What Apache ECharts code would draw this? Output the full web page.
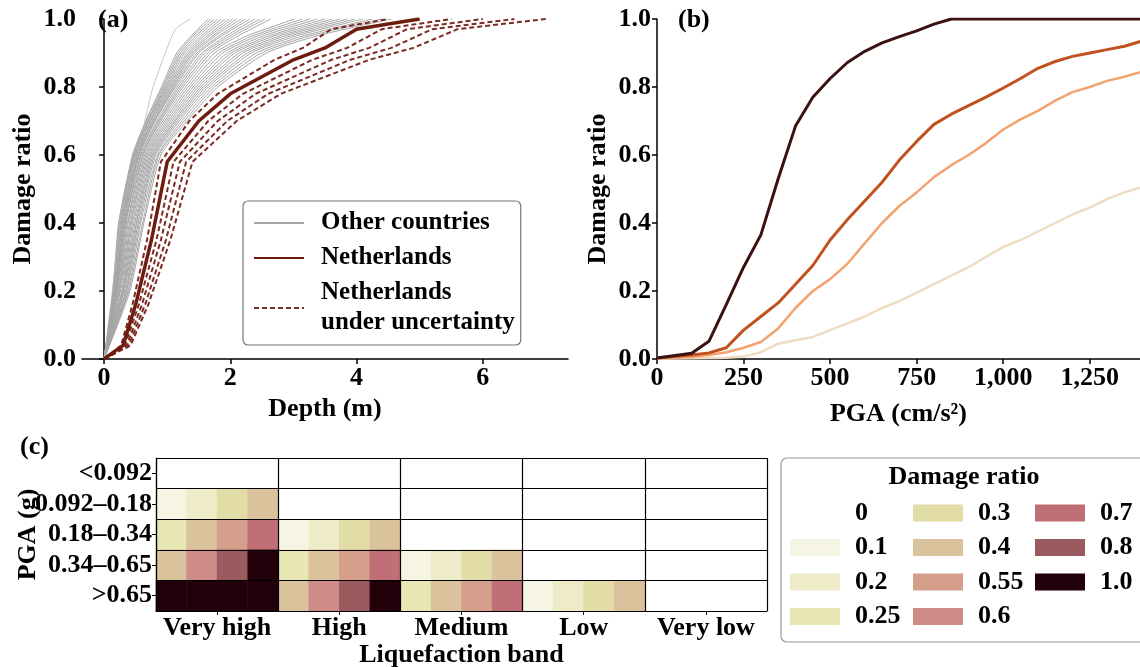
<!DOCTYPE html>
<html lang="en">
<head>
<meta charset="UTF-8">
<title>Damage curves</title>
<script src="https://cdn.jsdelivr.net/npm/echarts@6/dist/echarts.min.js"></script>
</head>
<body style="margin:0">
<div id="main" style="width:1140px;height:667px"></div>
<script>
// ---- (a) depth-damage curves ----
var damageLevels = [0, 0.2, 0.4, 0.6, 0.7, 0.8, 0.9, 0.95, 1.0];
// depth (m) at which each damage level is reached, one row per country
var otherCountryDepths = [
  [0, 0.14, 0.23, 0.45, 0.66, 0.91, 1.15, 1.38, 1.65],
  [0, 0.14, 0.24, 0.46, 0.67, 0.93, 1.18, 1.41, 1.70],
  [0, 0.15, 0.25, 0.47, 0.69, 0.95, 1.21, 1.45, 1.75],
  [0, 0.16, 0.25, 0.48, 0.70, 0.97, 1.24, 1.49, 1.80],
  [0, 0.16, 0.26, 0.49, 0.71, 0.99, 1.27, 1.54, 1.86],
  [0, 0.17, 0.27, 0.50, 0.73, 1.01, 1.31, 1.58, 1.92],
  [0, 0.17, 0.28, 0.51, 0.74, 1.03, 1.34, 1.63, 1.98],
  [0, 0.18, 0.29, 0.52, 0.76, 1.05, 1.37, 1.67, 2.04],
  [0, 0.19, 0.30, 0.53, 0.77, 1.07, 1.40, 1.72, 2.10],
  [0, 0.19, 0.31, 0.54, 0.79, 1.09, 1.43, 1.76, 2.17],
  [0, 0.20, 0.32, 0.55, 0.80, 1.11, 1.47, 1.82, 2.24],
  [0, 0.20, 0.33, 0.56, 0.81, 1.13, 1.50, 1.86, 2.31],
  [0, 0.21, 0.34, 0.58, 0.84, 1.16, 1.55, 1.93, 2.39],
  [0, 0.22, 0.35, 0.59, 0.86, 1.19, 1.59, 1.99, 2.47],
  [0, 0.23, 0.37, 0.61, 0.88, 1.22, 1.64, 2.05, 2.55],
  [0, 0.24, 0.38, 0.62, 0.90, 1.25, 1.69, 2.12, 2.64],
  [0, 0.25, 0.40, 0.64, 0.93, 1.29, 1.75, 2.26, 3.02],
  [0, 0.26, 0.42, 0.66, 0.96, 1.33, 1.82, 2.35, 3.14],
  [0, 0.28, 0.43, 0.68, 0.99, 1.37, 1.88, 2.43, 3.26],
  [0, 0.29, 0.45, 0.70, 1.02, 1.41, 1.95, 2.52, 3.38],
  [0, 0.30, 0.47, 0.72, 1.05, 1.45, 2.01, 2.61, 3.50],
  [0, 0.31, 0.49, 0.74, 1.08, 1.49, 2.07, 2.69, 3.62],
  [0, 0.32, 0.51, 0.76, 1.11, 1.53, 2.14, 2.78, 3.74],
  [0, 0.34, 0.52, 0.78, 1.13, 1.57, 2.20, 2.86, 3.86],
  [0, 0.35, 0.54, 0.80, 1.16, 1.61, 2.27, 2.95, 3.98],
  [0, 0.36, 0.56, 0.82, 1.19, 1.65, 2.33, 3.04, 4.10],
  [0, 0.38, 0.58, 0.85, 1.23, 1.70, 2.41, 3.15, 4.25],
  [0, 0.39, 0.61, 0.87, 1.27, 1.75, 2.49, 3.25, 4.40],
  [0, 0.41, 0.63, 0.90, 1.31, 1.80, 2.57, 3.36, 4.55]
];
// the steepest country curve
var steepDepth = [0, 0.13, 0.25, 0.33, 0.55, 0.76, 0.97, 1.13, 1.37];
var steepDamage = [0, 0.2, 0.4, 0.48, 0.62, 0.79, 0.90, 0.97, 1.0];

var nlDepth = [0, 0.15, 0.3, 0.5, 0.75, 1.0, 1.5, 2, 2.5, 3, 3.5, 4, 4.5, 5];
var nlDamage = [0, 0.02, 0.04, 0.16, 0.35, 0.58, 0.70, 0.78, 0.83, 0.88, 0.915, 0.97, 0.985, 1.0];
var nlUncertainDepths = [
  [0, 0.14, 0.27, 0.45, 0.68, 0.9, 1.35, 1.8, 2.25, 2.7, 3.15, 3.6, 4.05, 4.5],
  [0, 0.17, 0.33, 0.55, 0.83, 1.1, 1.65, 2.2, 2.75, 3.3, 3.85, 4.4, 4.95, 5.5],
  [0, 0.18, 0.36, 0.6, 0.9, 1.2, 1.8, 2.4, 3.0, 3.6, 4.2, 4.8, 5.4, 6.0],
  [0, 0.2, 0.39, 0.65, 0.98, 1.3, 1.95, 2.6, 3.25, 3.9, 4.55, 5.2, 5.85, 6.5],
  [0, 0.21, 0.42, 0.7, 1.05, 1.4, 2.1, 2.8, 3.5, 4.2, 4.9, 5.6, 6.3, 7.0]
];

// ---- (b) fragility curves vs PGA ----
var pgaSteps = [0, 100, 150, 200, 250, 300, 350, 400, 450, 500, 550, 600, 650, 700, 750,
  800, 850, 900, 950, 1000, 1050, 1100, 1150, 1200, 1250, 1300, 1350, 1400];
var pgaVeryHigh = [0.003, 0.017, 0.052, 0.16, 0.27, 0.365, 0.53, 0.685, 0.77, 0.825, 0.872, 0.905, 0.93, 0.948, 0.965,
  0.985, 1.0, 1.0, 1.0, 1.0, 1.0, 1.0, 1.0, 1.0, 1.0, 1.0, 1.0, 1.0];
var pgaHigh = [0.003, 0.012, 0.018, 0.033, 0.085, 0.125, 0.165, 0.22, 0.275, 0.35, 0.41, 0.465, 0.52, 0.585, 0.64,
  0.69, 0.72, 0.745, 0.77, 0.797, 0.825, 0.855, 0.875, 0.89, 0.9, 0.91, 0.92, 0.935];
var pgaMedium = [0.002, 0.006, 0.012, 0.02, 0.033, 0.05, 0.09, 0.15, 0.2, 0.235, 0.28, 0.34, 0.4, 0.45, 0.49,
  0.535, 0.57, 0.6, 0.635, 0.675, 0.705, 0.73, 0.76, 0.785, 0.8, 0.818, 0.83, 0.845];
var pgaLow = [0.001, 0.002, 0.003, 0.004, 0.007, 0.02, 0.045, 0.055, 0.065, 0.085, 0.105, 0.125, 0.15, 0.17, 0.195,
  0.22, 0.245, 0.27, 0.3, 0.33, 0.35, 0.375, 0.4, 0.425, 0.445, 0.47, 0.49, 0.505];
var pgaTicks = [0, 250, 500, 750, 1000, 1250];
var depthTicks = [0, 2, 4, 6];

// ---- (c) damage matrix ----
var bands = ['Very high', 'High', 'Medium', 'Low', 'Very low'];
var pgaBins = ['<0.092', '0.092\u20130.18', '0.18\u20130.34', '0.34\u20130.65', '>0.65'];
// 4 sub-cells per liquefaction band, rows top to bottom
var damageGrid = [
  [0, 0, 0, 0, 0, 0, 0, 0, 0, 0, 0, 0, 0, 0, 0, 0, 0, 0, 0, 0],
  [0.1, 0.2, 0.3, 0.4, 0, 0, 0, 0, 0, 0, 0, 0, 0, 0, 0, 0, 0, 0, 0, 0],
  [0.25, 0.4, 0.55, 0.7, 0.1, 0.2, 0.3, 0.4, 0, 0, 0, 0, 0, 0, 0, 0, 0, 0, 0, 0],
  [0.4, 0.6, 0.8, 1.0, 0.25, 0.4, 0.55, 0.7, 0.1, 0.2, 0.3, 0.4, 0, 0, 0, 0, 0, 0, 0, 0],
  [1.0, 1.0, 1.0, 1.0, 0.4, 0.6, 0.8, 1.0, 0.25, 0.4, 0.55, 0.7, 0.1, 0.2, 0.3, 0.4, 0, 0, 0, 0]
];
var damageClasses = [0, 0.1, 0.2, 0.25, 0.3, 0.4, 0.55, 0.6, 0.7, 0.8, 1.0];
var classLabels = ['0', '0.1', '0.2', '0.25', '0.3', '0.4', '0.55', '0.6', '0.7', '0.8', '1.0'];

// colours
var classColors = ['#ffffff', '#f6f4e2', '#eeebc8', '#e8e6b2', '#e2dca6', '#d9c29c',
  '#d49e8a', '#cf8b88', '#bf6f75', '#9a5b5e', '#22000a'];
var pgaColors = ['#3b1111', '#c0521d', '#f2a36f', '#efdcc4'];

var FONT = '"Liberation Serif", "DejaVu Serif", serif';
var txt = { fontFamily: FONT, fontWeight: 'bold', fontSize: 26, color: '#000' };

function pairs(xs, ys) {
  return xs.map(function (x, i) { return [x, ys[i]]; });
}

var chart = echarts.init(document.getElementById('main'));
var series = [];

// (a)
otherCountryDepths.forEach(function (d) {
  series.push({
    name: 'Other countries', type: 'line', xAxisIndex: 0, yAxisIndex: 0,
    data: pairs(d, damageLevels), symbol: 'none', smooth: 0.2,
    lineStyle: { color: '#a5a5a5', width: 1 }, itemStyle: { color: '#a5a5a5' }
  });
});
series.push({
  name: 'Other countries', type: 'line', xAxisIndex: 0, yAxisIndex: 0,
  data: pairs(steepDepth, steepDamage), symbol: 'none', smooth: 0.2,
  lineStyle: { color: '#b8b8b8', width: 0.8 }, itemStyle: { color: '#b8b8b8' }
});
nlUncertainDepths.forEach(function (d) {
  series.push({
    name: 'Netherlands\nunder uncertainty', type: 'line', xAxisIndex: 0, yAxisIndex: 0,
    data: pairs(d, nlDamage), symbol: 'none', z: 3,
    lineStyle: { color: '#7b2b22', width: 2, type: [5, 3] }, itemStyle: { color: '#7b2b22' }
  });
});
series.push({
  name: 'Netherlands', type: 'line', xAxisIndex: 0, yAxisIndex: 0,
  data: pairs(nlDepth, nlDamage), symbol: 'none', z: 4,
  lineStyle: { color: '#6e1c0e', width: 3.5 }, itemStyle: { color: '#6e1c0e' }
});

// (b)
[pgaLow, pgaMedium, pgaHigh, pgaVeryHigh].forEach(function (ys, i) {
  var c = pgaColors[3 - i];
  series.push({
    name: 'pga' + i, type: 'line', xAxisIndex: 1, yAxisIndex: 1,
    data: pairs(pgaSteps, ys), symbol: 'none',
    lineStyle: { color: c, width: i < 2 ? 2.5 : 3 }, itemStyle: { color: c }
  });
});

// (c)
damageClasses.forEach(function (c, k) {
  var cells = [];
  damageGrid.forEach(function (row, r) {
    row.forEach(function (v, s) { if (v === c) cells.push([s, r, v]); });
  });
  series.push({
    name: classLabels[k], type: 'heatmap', xAxisIndex: 2, yAxisIndex: 2,
    data: cells, itemStyle: { color: classColors[k] }, emphasis: { disabled: true }
  });
});

var subCells = [];
bands.forEach(function (b) { for (var i = 0; i < 4; i++) subCells.push(b + i); });

function valueY(grid, name) {
  return {
    type: 'value', gridIndex: grid, min: 0, max: 1, interval: 0.2,
    name: name, nameLocation: 'middle', nameGap: 46, nameTextStyle: txt,
    axisLine: { show: true, lineStyle: { color: '#000', width: 1.5 } },
    axisTick: { show: true, length: 5, lineStyle: { color: '#000', width: 1.5 } },
    axisLabel: Object.assign({ margin: 6, formatter: function (v) { return v.toFixed(1); } }, txt),
    splitLine: { show: false }
  };
}

var legendBase = {
  orient: 'vertical', selectedMode: false, icon: 'rect',
  itemWidth: 50, itemHeight: 17, itemGap: 8.5, padding: 0,
  textStyle: Object.assign({ padding: [0, 0, 0, 10], lineHeight: 26 }, txt)
};

var option = {
  animation: false,
  grid: [
    { left: 82, top: 19, width: 486, height: 340, outerBoundsMode: 'none' },
    { left: 657, top: 19, width: 483, height: 340, outerBoundsMode: 'none' },
    { left: 156, top: 458, width: 611, height: 153, outerBoundsMode: 'none' }
  ],
  xAxis: [
    {
      type: 'value', gridIndex: 0, min: -0.35, max: 7.35,
      name: 'Depth (m)', nameLocation: 'middle', nameGap: 36, nameTextStyle: txt,
      axisLine: { lineStyle: { color: '#000', width: 1.5 } },
      axisTick: { show: true, length: 5, customValues: depthTicks, lineStyle: { color: '#000', width: 1.5 } },
      axisLabel: Object.assign({ margin: 6, customValues: depthTicks }, txt),
      splitLine: { show: false }
    },
    {
      type: 'value', gridIndex: 1, min: 0, max: 1395,
      name: 'PGA (cm/s\u00b2)', nameLocation: 'middle', nameGap: 42, nameTextStyle: txt,
      axisLine: { lineStyle: { color: '#000', width: 1.5 } },
      axisTick: { show: true, length: 5, customValues: pgaTicks, lineStyle: { color: '#000', width: 1.5 } },
      axisLabel: Object.assign({
        margin: 6, customValues: pgaTicks,
        formatter: function (v) { return v.toLocaleString('en-US'); }
      }, txt),
      splitLine: { show: false }
    },
    {
      type: 'category', gridIndex: 2, data: subCells, show: false
    },
    {
      type: 'category', gridIndex: 2, data: bands, position: 'bottom', z: 10,
      name: 'Liquefaction band', nameLocation: 'middle', nameGap: 26, nameTextStyle: txt,
      axisLine: { lineStyle: { color: '#000', width: 1.2 } },
      axisTick: { show: true, alignWithLabel: true, interval: 0, length: 4, lineStyle: { color: '#000' } },
      axisLabel: Object.assign({ margin: 4, interval: 0 }, txt),
      splitLine: { show: true, interval: 0, lineStyle: { color: '#000', width: 1.2 } }
    }
  ],
  yAxis: [
    valueY(0, 'Damage ratio'),
    valueY(1, 'Damage ratio'),
    {
      type: 'category', gridIndex: 2, data: pgaBins, inverse: true, z: 10,
      name: 'PGA (g)', nameLocation: 'middle', nameGap: 115, nameMoveOverlap: false,
      nameTextStyle: txt,
      axisLine: { lineStyle: { color: '#000', width: 1.2 } },
      axisTick: { show: true, alignWithLabel: true, interval: 0, length: 4, lineStyle: { color: '#000' } },
      axisLabel: Object.assign({ margin: 4, interval: 0 }, txt),
      splitLine: { show: true, interval: 0, lineStyle: { color: '#000', width: 1.2 } }
    }
  ],
  legend: [
    {
      orient: 'vertical', selectedMode: false, left: 243, top: 201,
      data: ['Other countries', 'Netherlands', 'Netherlands\nunder uncertainty'],
      itemWidth: 50, itemHeight: 14, itemGap: 5,
      itemStyle: { opacity: 0 },
      padding: [7, 6, 7, 10], borderColor: '#777', borderWidth: 1.2, borderRadius: 5,
      backgroundColor: '#fff',
      textStyle: Object.assign({ padding: [0, 0, 0, 12], lineHeight: 30 }, txt, { fontSize: 25 })
    },
    Object.assign({ left: 790, top: 500, data: classLabels.slice(0, 4) }, legendBase),
    Object.assign({ left: 913, top: 500, data: classLabels.slice(4, 8) }, legendBase),
    Object.assign({ left: 1035, top: 500, data: classLabels.slice(8) }, legendBase)
  ],
  graphic: [
    { type: 'rect', z: 0, shape: { x: 781, y: 458, width: 380, height: 184, r: 6 },
      style: { fill: '#fff', stroke: '#999', lineWidth: 1.2 } },
    { type: 'text', z: 5, x: 964, y: 477,
      style: { text: 'Damage ratio', font: 'bold 26px ' + FONT, fill: '#000', textAlign: 'center', textVerticalAlign: 'middle' } },
    { type: 'text', z: 5, x: 98, y: 20,
      style: { text: '(a)', font: 'bold 26px ' + FONT, fill: '#000', textVerticalAlign: 'middle' } },
    { type: 'text', z: 5, x: 678, y: 20,
      style: { text: '(b)', font: 'bold 26px ' + FONT, fill: '#000', textVerticalAlign: 'middle' } },
    { type: 'text', z: 5, x: 20, y: 447,
      style: { text: '(c)', font: 'bold 26px ' + FONT, fill: '#000', textVerticalAlign: 'middle' } }
  ],
  series: series
};

chart.setOption(option);
</script>
</body>
</html>
